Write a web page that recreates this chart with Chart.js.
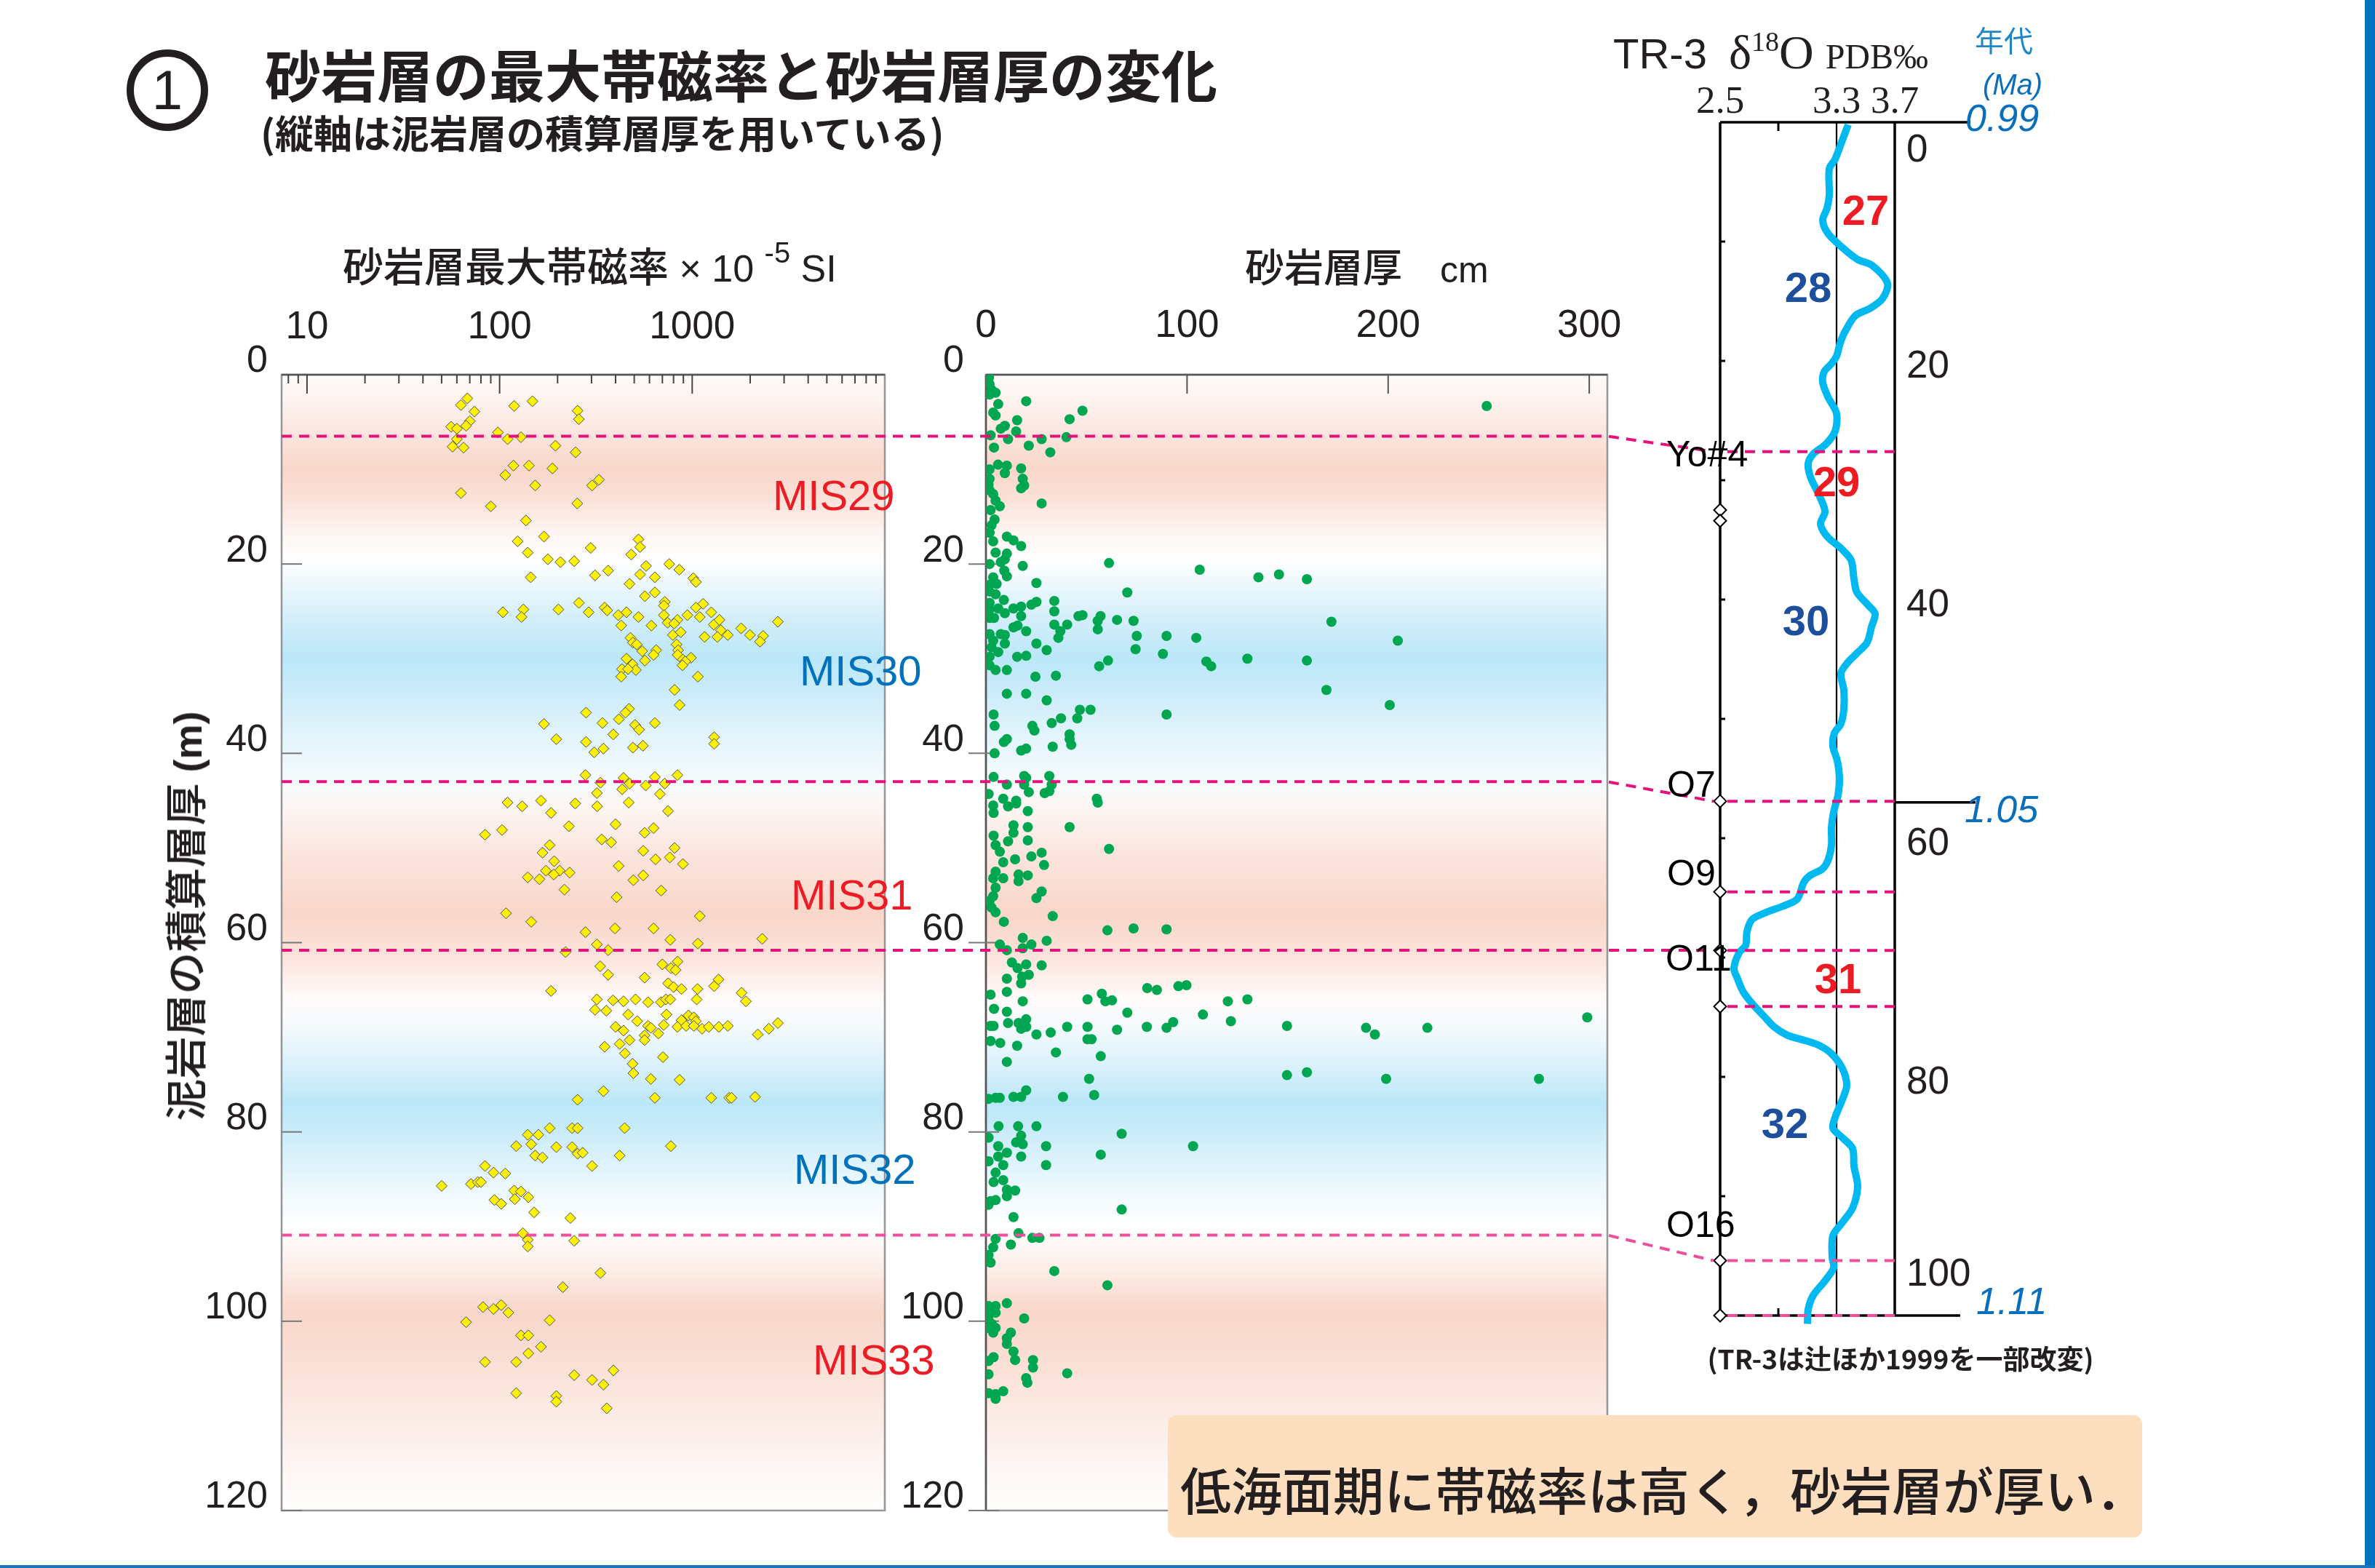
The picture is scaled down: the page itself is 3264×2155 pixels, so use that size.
<!DOCTYPE html>
<html><head><meta charset="utf-8">
<script src="https://cdn.jsdelivr.net/npm/chart.js@4.4.1/dist/chart.umd.min.js"></script>
<style>
html,body{margin:0;padding:0;background:#fff;}
#page{position:relative;width:3264px;height:2155px;overflow:hidden;background:#fff;}
canvas{position:absolute;left:0;top:0;}
.t{position:absolute;white-space:nowrap;line-height:1;color:#231f20;}
</style></head><body><div id="page">
<canvas id="c1" width="3264" height="2155"></canvas>
<canvas id="c2" width="3264" height="2155"></canvas>
<canvas id="c3" width="3264" height="2155"></canvas>
</div>
<script>
// ---------------- DATA ----------------
// Left panel: maximum magnetic susceptibility of sandstone beds (x10^-5 SI) vs cumulative mudstone depth (m)
const magSI = [
68,63,74,148,119,254,258,70,67,56,
60,60,98,110,129,57,65,195,248,118,
142,188,107,153,302,328,63,253,90,137,
170,124,526,536,140,297,178,207,244,482,
366,313,145,536,576,760,857,640,473,1013,
1045,640,568,258,721,713,1140,1045,104,133,
130,202,290,351,362,413,456,526,428,713,
745,838,944,1095,1256,614,806,1294,1385,2785,
1410,1530,1795,1995,2335,2250,1160,1350,793,872,
478,492,515,550,650,630,830,845,840,895,
986,920,890,456,490,510,432,464,428,568,
1070,810,860,281,470,450,416,170,342,505,
530,640,389,197,281,492,555,310,346,1300,
1300,279,334,440,433,473,574,640,720,838,680,320,
110,131,164,185,247,321,468,749,84,103,
229,400,339,380,566,630,182,167,557,645,
810,765,895,192,174,205,191,231,140,161,
415,495,557,217,690,405,108,146,1095,279,
397,630,770,1070,2310,320,366,220,700,840,
775,820,333,366,566,185,750,800,880,1065,
1300,1370,1805,1900,1055,320,388,440,508,590,
688,730,770,313,358,465,518,735,880,955,
1020,1045,400,440,473,420,590,610,566,566,
667,712,838,930,1020,1125,1220,1375,1530,2190,
2500,2785,351,447,705,490,495,610,860,346,
640,1256,1556,1600,2120,254,182,238,254,446,
140,159,122,146,197,238,254,270,153,167,
420,775,302,84,93,107,50,71,77,80,
119,129,141,120,94,102,151,233,132,140,
140,244,334,213,82,93,102,111,67,182,
129,141,141,164,84,122,244,302,346,390,
122,197,197,360];
const magDepth = [
2.5,3.2,3.9,2.8,3.3,3.8,4.7,4.9,5.4,5.5,
5.7,6.8,6.1,6.8,6.6,7.6,7.7,7.5,8.2,9.6,
9.6,9.9,10.6,11.7,11.7,11.1,12.5,13.6,13.9,15.4,
17.1,17.6,17.4,18.2,18.8,18.3,19.5,19.8,19.7,19.0,
20.7,21.2,21.4,21.1,20.2,20.0,20.6,21.4,22.1,21.5,
21.9,23.0,23.4,24.1,24.0,24.4,24.2,24.6,25.1,24.8,
25.6,24.8,25.1,24.6,24.9,25.4,25.1,25.6,26.5,25.4,
26.2,25.9,25.4,25.6,25.1,26.5,26.3,26.4,25.9,26.1,
27.0,27.5,26.8,27.5,27.6,28.2,27.7,27.7,27.5,27.2,
27.8,28.3,28.5,29.2,29.1,29.6,28.5,29.1,29.6,30.1,
29.9,30.3,30.7,30.0,30.6,31.2,31.1,31.1,31.9,30.2,
31.9,33.3,34.9,35.7,35.3,35.7,36.4,36.9,36.8,37.0,
37.5,36.8,38.0,38.5,38.8,39.4,39.2,39.9,39.5,38.3,
39.0,42.3,43.1,42.6,43.8,43.2,43.4,42.5,43.2,42.3,44.3,44.2,
45.2,45.6,45.0,46.3,45.3,45.6,45.2,46.1,48.6,48.1,
47.7,47.5,49.1,49.4,48.4,47.9,49.7,50.5,50.3,51.2,
50.0,51.0,51.7,51.4,52.4,52.4,52.8,52.6,53.1,53.3,
51.9,53.4,52.9,54.4,54.5,55.2,56.9,57.8,57.2,58.9,
58.5,58.5,59.7,60.1,59.6,60.2,60.8,61.0,62.3,62.0,
62.7,62.9,62.5,63.4,63.7,65.1,64.3,64.7,64.9,64.9,
64.6,63.9,65.3,66.2,66.0,66.0,66.1,66.2,66.0,66.3,
66.3,66.0,66.0,67.1,67.2,67.6,68.3,67.6,68.2,67.7,
67.9,68.3,68.9,69.3,70.3,70.7,68.8,69.0,69.8,70.3,
69.6,68.7,68.9,68.8,68.8,69.1,68.9,68.9,68.8,69.7,
69.1,68.5,71.0,71.7,72.1,72.8,73.8,74.4,74.5,75.7,
76.4,76.4,76.4,76.4,76.3,76.6,79.6,79.6,79.6,79.6,
80.3,80.3,81.5,81.3,81.6,81.6,82.3,82.2,82.5,82.7,
82.5,81.5,83.6,83.6,84.3,84.4,85.7,85.5,85.3,85.3,
86.2,86.3,86.9,87.1,87.2,87.6,88.5,89.1,90.7,91.4,
92.1,91.5,94.9,96.4,98.5,98.7,98.3,99.1,100.1,99.9,
101.5,101.5,103.4,102.7,104.3,104.3,105.7,106.2,106.7,105.2,
107.6,107.9,108.5,109.2];

// Middle panel: sandstone bed thickness (cm) vs depth (m)
const sandCm = [
1.5,1.8,2.8,4.8,1.8,6.1,20,249,3.6,4.8,
48,41.6,15.5,9.4,7.4,15,2.3,11,27.7,40,
21.3,4,32,6,10.4,1.8,17.5,9.4,1.8,18.3,
19,17.5,1.3,1.8,3.6,4.8,6.9,27.7,2.3,4.3,
2.8,1.8,3.6,10.4,13.7,17.5,4.8,10.4,9.4,1.8,
7.4,18.3,9.1,10.4,3.6,5.3,1.8,25.1,61.2,106.3,
135.5,145.7,159.6,70.3,1.8,4.8,8.9,1.8,22.6,25.1,
34,13.7,17.5,1.8,6.1,9.4,34,17.5,1.8,4,
46,48,57,55.6,65.2,73.4,171.8,40.4,34,13.7,
15.7,55.6,20,37,1.8,7.4,9.4,36,75,89.8,
104.6,204.8,3.6,9.4,25.1,2.8,30.2,74.4,6.1,88,
1.8,15.5,20,60.7,109.6,112,130,159.6,56.3,1.8,
4.8,10.4,24.6,34.8,169.3,10.4,20,30.2,200.8,89.8,
3.8,46.7,52,45.4,37.3,32.7,4.3,23.1,24.1,41.6,
41.6,42.4,10.4,8.9,20,17.5,33.2,4.3,3.8,19,
20,31.5,10.4,19,32.7,1.3,8.6,15,21.3,29.2,
31.5,55.1,3.6,11,15,20.8,55.6,3.8,13.7,20.8,
41.6,13.7,3.8,4.8,11,20.8,61.2,6.9,27.7,22.6,
8.6,14.5,28.9,4.8,3.6,8.6,16.2,16.2,20.8,4.8,
27.7,25.1,1.8,3.6,2.8,4.8,33.2,8.9,60.4,73.4,
89.8,18.3,30.2,22.6,6.9,10.4,18.3,12.9,15.7,20,
27.7,21.3,18,10.4,17.5,10.4,2.3,18.3,4,10.4,
50.5,57.6,59.4,62.7,80.2,85,95.7,99.7,120.3,130,
70.3,107.9,121.8,2.3,3.8,11,16.2,20,17.5,20,
25.1,32.2,40.4,50.5,50.5,52.5,65.2,80,89.8,93.1,
149.7,189,193.4,219.5,299,2.3,7.1,15.5,34.8,57.1,
10.4,51.3,149.7,159.6,199,275,53.8,38.3,1.3,4.8,
6.9,13.7,17.5,20,6.3,16,25.1,1.3,17.5,67.5,
15,18.3,6.1,29.9,103,10.4,6.1,17.5,57.1,1.3,
8.6,29.9,4.8,3.8,8.6,10.4,14.5,10.4,2.3,4.8,
1.3,67.5,13.7,16.2,23.1,26.6,4.8,12.4,3.6,1.3,
2.3,34,60.4,1.3,4.8,10.4,1.8,4.8,19,1.3,
3,4.8,1.3,3.6,12.4,10.4,10.4,13.7,14.5,3.8,
1.3,23.4,23.4,40.4,1.3,20,20.6,1.3,4.8,8.6,4.8];
const sandDepth = [
0.3,1.0,1.6,1.9,2.1,3.1,2.8,3.3,4.0,4.3,
3.8,4.7,4.8,5.4,5.7,6.0,6.4,6.8,6.8,6.6,
7.5,7.7,8.2,9.5,9.6,10.0,9.9,10.4,11.0,11.0,
11.7,12.0,11.6,12.2,12.6,13.3,13.9,13.6,14.3,15.3,
15.9,16.7,17.6,17.1,17.5,18.1,18.8,18.9,19.5,20.0,
19.8,20.2,20.7,21.3,21.4,22.1,22.2,22.0,19.9,20.6,
21.4,21.1,21.6,23.0,22.9,23.2,23.8,24.1,24.3,24.0,
23.9,24.7,24.5,24.8,24.7,25.2,25.0,25.5,25.7,25.7,
25.5,25.4,25.5,26.0,25.9,26.0,26.1,26.4,26.4,26.7,
26.5,26.9,27.1,27.1,27.4,27.4,27.5,27.8,27.6,27.6,
27.8,28.1,28.1,28.4,28.4,28.8,29.1,29.0,29.3,29.5,
29.8,29.8,29.7,30.2,30.3,30.8,30.0,30.2,30.8,30.7,
31.2,31.2,31.9,31.8,33.3,33.7,33.7,34.4,34.9,35.9,
35.9,35.4,35.4,36.3,36.3,36.8,37.1,37.1,37.6,38.0,
38.5,39.1,38.5,38.8,39.5,39.7,39.3,40.0,42.5,42.4,
42.6,42.4,43.3,43.3,43.3,44.3,44.8,45.0,44.1,44.2,
44.0,44.8,45.5,45.6,45.3,46.1,45.2,46.3,47.6,47.8,
47.8,48.4,48.7,49.7,49.3,49.2,50.1,50.4,50.5,50.9,
51.5,51.2,51.8,52.5,53.2,53.2,52.8,53.5,52.9,54.2,
54.6,55.3,55.6,55.1,56.3,56.8,57.2,57.8,58.7,58.5,
58.6,59.5,59.8,60.2,60.2,60.8,60.6,62.1,62.7,62.3,
62.4,63.4,63.6,63.8,64.3,65.2,65.5,66.2,67.0,67.3,
66.0,65.4,66.2,66.1,64.8,65.0,64.6,64.5,66.2,66.0,
67.4,67.6,68.3,68.8,68.8,68.5,68.5,68.1,69.1,68.9,
69.7,69.5,68.9,68.9,70.2,70.2,69.2,68.9,69.0,68.4,
68.8,69.0,69.7,69.0,67.9,70.4,70.6,70.9,71.6,72.0,
72.6,74.4,74.0,73.7,74.4,74.4,76.1,76.3,76.5,76.4,
76.4,76.3,76.3,75.6,79.4,79.4,79.4,80.6,80.4,80.2,
81.1,81.3,81.5,81.5,81.5,82.2,82.6,82.6,82.4,83.1,
83.5,83.5,84.3,85.3,85.1,86.1,86.2,86.8,87.3,87.2,
87.7,88.2,89.0,90.7,91.2,91.2,91.3,91.9,92.2,93.0,
93.8,94.7,96.2,98.4,98.4,98.1,99.2,99.1,99.7,99.9,
100.3,100.7,100.7,101.2,101.2,101.8,102.4,103.2,104.1,103.8,
104.2,104.1,104.9,105.5,105.6,106.0,106.5,107.6,107.7,107.4,108.2];

// Right panel: TR-3 delta18O (PDB permil) vs TR-3 depth (m)
const tr3Depth = [0.2,1.5,3.1,3.9,6.1,7.2,8.2,9.3,10.5,11.5,12.0,13.5,14.8,15.6,16.2,17.5,18.5,19.6,20.3,20.9,
21.8,23.0,24.4,25.9,27.0,27.8,28.6,29.7,31.0,32.1,32.7,33.6,34.3,34.9,35.7,36.7,38.3,39.4,40.5,41.2,
42.3,43.6,44.5,45.3,46.2,47.6,49.2,50.4,51.2,52.3,53.5,55.0,56.4,57.8,59.1,60.6,61.9,62.6,63.1,63.7,
65.1,65.7,66.2,66.8,67.8,69.0,69.6,70.9,71.8,72.9,74.0,74.9,75.8,76.5,76.9,77.3,78.0,79.3,80.7,81.9,
83.4,84.3,85.1,86.0,87.5,89.2,91.0,92.2,93.3,95.1,96.0,97.1,98.3,99.5,100.7];
const tr3D18O = [3.38,3.34,3.29,3.25,3.25,3.235,3.205,3.24,3.34,3.445,3.545,3.65,3.615,3.53,3.43,3.36,3.325,3.30,3.26,3.215,
3.205,3.24,3.30,3.29,3.225,3.14,3.105,3.12,3.17,3.21,3.22,3.19,3.21,3.25,3.33,3.40,3.42,3.44,3.52,3.565,
3.54,3.51,3.44,3.375,3.33,3.35,3.35,3.33,3.285,3.275,3.305,3.32,3.31,3.28,3.265,3.265,3.24,3.20,3.12,3.075,
3.03,2.93,2.82,2.72,2.685,2.675,2.63,2.595,2.62,2.66,2.73,2.80,2.87,2.96,3.07,3.17,3.26,3.34,3.37,3.34,
3.29,3.275,3.34,3.41,3.42,3.445,3.41,3.34,3.275,3.27,3.28,3.22,3.14,3.105,3.10];

// tick labels
const magTickLabels = [10, 100, 1000];
const sandTickLabels = [0, 100, 200, 300];
const depthTicks = [0, 20, 40, 60, 80, 100, 120];
const d18OTickLabels = [2.5, 3.3, 3.7];
const tr3DepthTicks = [0, 20, 40, 60, 80, 100];

// correlation lines (left/middle depth  ->  TR-3 depth)
const boundaryDepths = [6.5, 43.0, 60.8, 90.9];
const boundaryTR3 = [27.6, 56.9, 69.4, 95.4];
const tr3ExtraLines = [64.5, 74.1, 100];
const tr3MarkerDepths = [32.5, 33.4, 56.9, 64.5, 69.4, 74.1, 95.4, 100];
const ageLabels = ['0.99', '1.05', '1.11'];
const ageDepths = [0, 57.0, 100];
const misNames = ['MIS29', 'MIS30', 'MIS31', 'MIS32', 'MIS33'];
const misDepths = [12.7, 31.2, 54.9, 83.9, 104.0];

// ---------------- STYLE ----------------
const bandStops = [[0,'#fefbfa'],[3,'#fdf2ee'],[10,'#f9d6ca'],[13,'#fbe1d8'],[17,'#fef6f3'],[19.5,'#ffffff'],
 [22,'#eef8fc'],[26,'#d2eefa'],[30,'#bae7f8'],[33,'#c9ebf9'],[38,'#e2f4fc'],[43,'#f6fbfd'],[46,'#fdf5f2'],
 [51,'#fbe4dc'],[57,'#f9d6ca'],[61,'#fbe1d8'],[66,'#fffbfa'],[69,'#f4fafd'],[73,'#daf1fb'],[77,'#bae7f8'],
 [81,'#d0eefa'],[86,'#eef9fd'],[90,'#ffffff'],[94,'#fdf0eb'],[99,'#f9d6ca'],[104,'#fadfd5'],[110,'#fcebe5'],
 [116,'#fef7f5'],[120,'#fffdfc']];
const MAG = '#e6127c', MAG2 = '#ee4f9c';

Chart.defaults.font.family = "'Liberation Sans', Arial, sans-serif";
Chart.defaults.color = '#231f20';
const common = {responsive:false, animation:false, devicePixelRatio:1, events:[],
  plugins:{legend:{display:false}, tooltip:{enabled:false}}};

function line(ctx,x1,y1,x2,y2){ctx.beginPath();ctx.moveTo(x1,y1);ctx.lineTo(x2,y2);ctx.stroke();}

const bandPlugin = {id:'band', beforeDraw(c){
  const {ctx, chartArea:a, scales:{y}} = c; const h = a.bottom-a.top;
  const g = ctx.createLinearGradient(0,a.top,0,a.bottom);
  bandStops.forEach(([d,col])=>{ let p=(y.getPixelForValue(d)-a.top)/h; p=Math.max(0,Math.min(1,p)); g.addColorStop(p,col); });
  ctx.save(); ctx.fillStyle=g; ctx.fillRect(a.left,a.top,a.right-a.left,h); ctx.restore();
}};

const frame1 = {id:'frame1', beforeDatasetsDraw(c){
  const {ctx, chartArea:a, scales:{x,y}} = c; ctx.save();
  ctx.strokeStyle='#939598'; ctx.lineWidth=2.5; ctx.strokeRect(a.left,a.top,a.right-a.left,a.bottom-a.top);
  ctx.strokeStyle='#555'; ctx.lineWidth=2.5; line(ctx,a.left,a.top,a.right,a.top);
  ctx.lineWidth=2; ctx.strokeStyle='#444';
  for(let e=0;e<4;e++) for(let m=1;m<10;m++){ const v=m*Math.pow(10,e); if(v<x.min||v>x.max) continue;
    const px=x.getPixelForValue(v); line(ctx,px,a.top,px,a.top+(m===1?26:12)); }
  ctx.strokeStyle='#777';
  depthTicks.forEach(d=>{ if(d===0) return; const py=y.getPixelForValue(d); line(ctx,a.left,py,a.left+28,py); });
  ctx.restore();
}};
const frame2 = {id:'frame2', beforeDatasetsDraw(c){
  const {ctx, chartArea:a, scales:{x,y}} = c; ctx.save();
  ctx.strokeStyle='#939598'; ctx.lineWidth=2.5; ctx.strokeRect(a.left,a.top,a.right-a.left,a.bottom-a.top);
  ctx.strokeStyle='#555'; line(ctx,a.left,a.top,a.right,a.top); line(ctx,a.left,a.top,a.left,a.bottom);
  ctx.lineWidth=2; ctx.strokeStyle='#555';
  sandTickLabels.forEach(v=>{ if(v===0) return; const px=x.getPixelForValue(v); line(ctx,px,a.top,px,a.top+26); });
  ctx.strokeStyle='#777';
  depthTicks.forEach(d=>{ if(d===0) return; const py=y.getPixelForValue(d); line(ctx,a.left-24,py,a.left+18,py); });
  ctx.restore();
}};

const ch1 = new Chart(document.getElementById('c1'), {
  type:'scatter',
  data:{datasets:[{data: magSI.map((v,i)=>({x:v, y:magDepth[i]})), pointStyle:'rectRot', pointRadius:7.5,
    backgroundColor:'#fff200', borderColor:'#4d4d4d', borderWidth:1}]},
  options:{...common, layout:{padding:{left:247, top:415, right:2048, bottom:79}},
    scales:{
      x:{type:'logarithmic', position:'top', min:7.38, max:10000, afterFit:s=>{s.height=100;},
        grid:{display:false}, border:{display:false},
        ticks:{autoSkip:false, maxRotation:0, padding:25, font:{size:53},
          callback:(v)=> magTickLabels.includes(v) ? String(v) : ''}},
      y:{type:'linear', reverse:true, min:0, max:120, afterFit:s=>{s.width=140;},
        grid:{display:false}, border:{display:false},
        afterBuildTicks:s=>{ s.ticks = depthTicks.map(v=>({value:v})); },
        ticks:{padding:11, labelOffset:-18, font:{size:52}}}
    }},
  plugins:[bandPlugin, frame1]
});

const ch2 = new Chart(document.getElementById('c2'), {
  type:'scatter',
  data:{datasets:[{data: sandCm.map((v,i)=>({x:v, y:sandDepth[i]})), pointStyle:'circle', pointRadius:7,
    backgroundColor:'#00a650', borderWidth:0}]},
  options:{...common, layout:{padding:{left:1215, top:415, right:1055, bottom:79}},
    scales:{
      x:{type:'linear', position:'top', min:0, max:309, afterFit:s=>{s.height=100;},
        grid:{display:false}, border:{display:false},
        afterBuildTicks:s=>{ s.ticks = sandTickLabels.map(v=>({value:v})); },
        ticks:{autoSkip:false, maxRotation:0, padding:27, font:{size:53}}},
      y:{type:'linear', reverse:true, min:0, max:120, afterFit:s=>{s.width=140;},
        grid:{display:false}, border:{display:false},
        afterBuildTicks:s=>{ s.ticks = depthTicks.map(v=>({value:v})); },
        ticks:{padding:22, labelOffset:-18, font:{size:52}}}
    }},
  plugins:[bandPlugin, frame2]
});

const tr3Plugin = {id:'tr3',
  beforeDatasetsDraw(c){
    const {ctx, chartArea:a, scales:{x,y}} = c; ctx.save(); ctx.strokeStyle='#000';
    ctx.lineWidth=3.5;
    line(ctx,a.left,a.top,a.left,a.bottom);
    line(ctx,a.right,a.top,a.right,a.bottom);
    line(ctx,a.left,a.top,a.right+104,a.top);
    line(ctx,a.left,a.bottom,a.right+90,a.bottom);
    line(ctx,a.right,y.getPixelForValue(ageDepths[1]),a.right+111,y.getPixelForValue(ageDepths[1]));
    ctx.lineWidth=2.2;
    const x33=x.getPixelForValue(3.3); line(ctx,x33,a.top,x33,a.bottom);
    ctx.lineWidth=3;
    const x29=x.getPixelForValue(2.9); line(ctx,x29,a.top,x29,a.top+12); line(ctx,x29,a.bottom,x29,a.bottom-10);
    for(let d=10; d<100; d+=10){ const py=y.getPixelForValue(d); line(ctx,a.left,py,a.left+7,py); }
    ctx.restore();
  },
  afterDatasetsDraw(c){
    const {ctx, chartArea:a, scales:{y}} = c; ctx.save();
    ctx.lineWidth=4; ctx.setLineDash([14,10]);
    const y1s = ch1.scales.y, xL = ch1.chartArea.left, xR = ch2.chartArea.right;
    boundaryDepths.forEach((d,i)=>{
      const yy = y1s.getPixelForValue(d), y3 = y.getPixelForValue(boundaryTR3[i]);
      ctx.strokeStyle = i===3 ? MAG2 : MAG;
      ctx.beginPath(); ctx.moveTo(xL,yy); ctx.lineTo(xR,yy); ctx.lineTo(a.left-9,y3); ctx.stroke();
      ctx.beginPath(); ctx.moveTo(a.left+10,y3); ctx.lineTo(a.right,y3); ctx.stroke();
    });
    tr3ExtraLines.forEach((d,i)=>{
      const y3=y.getPixelForValue(d); ctx.strokeStyle = d===100 ? MAG2 : MAG;
      ctx.beginPath(); ctx.moveTo(a.left+10,y3); ctx.lineTo(a.right,y3); ctx.stroke();
    });
    ctx.restore();
  }
};

const ch3 = new Chart(document.getElementById('c3'), {
  type:'scatter',
  data:{datasets:[
    {data: tr3MarkerDepths.map(d=>({x:2.5, y:d})), pointStyle:'rectRot', pointRadius:8.5,
      backgroundColor:'#ffffff', borderColor:'#000000', borderWidth:2, clip:false},
    {data: tr3D18O.map((v,i)=>({x:v, y:tr3Depth[i]})), showLine:true, pointRadius:0,
      borderColor:'#00b9f0', borderWidth:10, tension:0.3, clip:false}
  ]},
  options:{...common, layout:{padding:{left:2364, top:88, right:520, bottom:347}},
    scales:{
      x:{type:'linear', position:'top', min:2.5, max:3.7, afterFit:s=>{s.height=80;},
        grid:{display:false}, border:{display:false},
        afterBuildTicks:s=>{ s.ticks = d18OTickLabels.map(v=>({value:v})); },
        ticks:{autoSkip:false, maxRotation:0, padding:-8, font:{family:"'Liberation Serif', serif", size:53, lineHeight:1},
          callback:v=>Number(v).toFixed(1)}},
      y:{type:'linear', position:'right', reverse:true, min:0, max:100, afterFit:s=>{s.width=140;},
        grid:{display:false}, border:{display:false},
        afterBuildTicks:s=>{ s.ticks = tr3DepthTicks.map(v=>({value:v})); },
        ticks:{padding:8, labelOffset:8, font:{size:53},
          callback:v=> v===0 ? ['', '0'] : v===100 ? ['100','',''] : String(v)}}
    }},
  plugins:[tr3Plugin]
});

// ---------------- TEXT ----------------
const page = document.getElementById('page');
function addText(html, x, y, css, ax, ay){
  const d=document.createElement('div'); d.className='t'; d.innerHTML=html; d.style.cssText+=css;
  d.style.left=x+'px'; d.style.top=y+'px';
  const tx = ax==='center'?'-50%':ax==='right'?'-100%':'0';
  const ty = ay==='top'?'0':ay==='bottom'?'-100%':'-50%';
  d.style.transform=`translate(${tx},${ty})`;
  page.appendChild(d); return d;
}
const JP = "'Noto Sans CJK JP', sans-serif";
const LS = "'Liberation Sans', Arial, sans-serif";
const SERIF = "'Liberation Serif', 'DejaVu Serif', serif";

// circled number
const circ=document.createElement('div');
circ.style.cssText='position:absolute;left:174px;top:68px;width:112px;height:112px;box-sizing:border-box;border:10px solid #231f20;border-radius:50%;display:flex;align-items:center;justify-content:center;font:300 76px '+LS+';color:#231f20;line-height:1;';
circ.textContent='1'; page.appendChild(circ);

addText('砂岩層の最大帯磁率と砂岩層厚の変化', 364, 100, `font:700 77px ${JP};`, 'left','middle');
addText('(縦軸は泥岩層の積算層厚を用いている)', 358, 181, `font:700 53px ${JP};`, 'left','middle');
addText(`<span style="font:500 56px ${JP}">砂岩層最大帯磁率</span><span style="font:52px ${LS}"> × 10 <span style="position:relative;top:-26px;font-size:40px">-5</span> SI</span>`, 471, 362, '', 'left','middle');
addText(`<span style="font:500 54px ${JP}">砂岩層厚</span><span style="font:50px ${LS};margin-left:52px">cm</span>`, 1711, 364, '', 'left','middle');
const yt = addText(`<span style="font:500 58px ${JP}">泥岩層の積算層厚</span><span style="font:700 54px ${LS}"> (m)</span>`, 252, 1259, '', 'center','middle');
yt.style.transform='translate(-50%,-50%) rotate(-90deg)';

// MIS labels placed on the depth scale of the left panel
const misLeft = [1062, 1099, 1087, 1091, 1117];
const misCol = ['#ed1c24','#0072bc','#ed1c24','#0072bc','#ed1c24'];
misNames.forEach((n,i)=>{
  addText(n, misLeft[i], ch1.scales.y.getPixelForValue(misDepths[i]), `font:58px ${LS};color:${misCol[i]};`, 'left','middle');
});

// TR-3 header
addText(`<span style="font:58px ${LS}">TR-3</span><span style="font:66px ${SERIF};margin-left:30px">δ<span style="font-size:38px;position:relative;top:-24px">18</span>O</span><span style="font:48px ${SERIF};margin-left:16px">PDB‰</span>`, 2217, 72, 'line-height:1.2;', 'left','middle');
addText('年代', 2754, 54, `font:40px ${JP};color:#1f86c8;`, 'center','middle');
addText('(Ma)', 2766, 116, `font:italic 40px ${LS};color:#0a6fbb;`, 'center','middle');
const ageCss = `font:italic 52px ${LS};color:#0a6fbb;`;
addText(ageLabels[0], 2701, 162, ageCss, 'left','middle');
addText(ageLabels[1], 2700, 1112, ageCss, 'left','middle');
addText(ageLabels[2], 2716, 1788, ageCss, 'left','middle');

// tephra / marker labels
const mk = `font:50px ${LS};color:#000;`;
addText('Yo#4', 2290, 624, mk, 'left','middle');
addText('O7', 2291, 1078, mk, 'left','middle');
addText('O9', 2291, 1200, mk, 'left','middle');
addText('O11', 2289, 1317, mk, 'left','middle');
addText('O16', 2290, 1683, mk, 'left','middle');

// marine isotope stage numbers on the TR-3 curve
const st = (c)=>`font:700 58px ${LS};color:${c};`;
addText('27', 2564, 288, st('#ed1c24'), 'center','middle');
addText('28', 2485, 394, st('#1d4f9c'), 'center','middle');
addText('29', 2524, 661, st('#ed1c24'), 'center','middle');
addText('30', 2482, 852, st('#1d4f9c'), 'center','middle');
addText('31', 2526, 1344, st('#ed1c24'), 'center','middle');
addText('32', 2453, 1543, st('#1d4f9c'), 'center','middle');

addText('(TR-3は辻ほか1999を一部改変)', 2612, 1866, `font:700 37px ${JP};`, 'center','middle');

// conclusion box
const box=document.createElement('div');
box.style.cssText='position:absolute;left:1605px;top:1945px;width:1339px;height:168px;background:#fddfbf;border-radius:12px;';
page.appendChild(box);
addText('低海面期に帯磁率は高く，砂岩層が厚い．', 1622, 2045, `font:500 70px ${JP};color:#231f20;`, 'left','middle');

// page frame
const rb=document.createElement('div'); rb.style.cssText='position:absolute;left:3250px;top:0;width:14px;height:2155px;background:#0071bc;'; page.appendChild(rb);
const bb=document.createElement('div'); bb.style.cssText='position:absolute;left:0;top:2151px;width:3264px;height:4px;background:#1b75bc;'; page.appendChild(bb);
</script></body></html>
